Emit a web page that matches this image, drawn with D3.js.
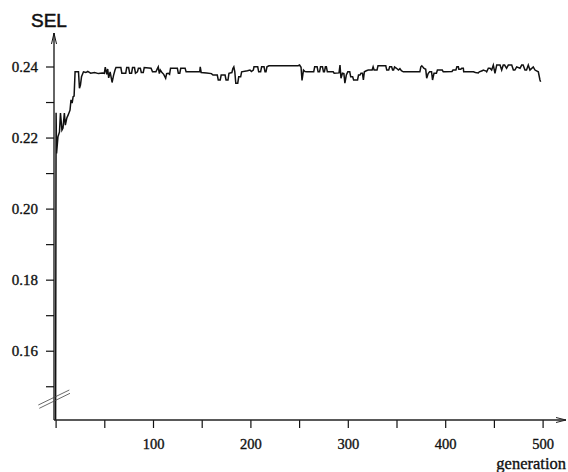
<!DOCTYPE html>
<html>
<head>
<meta charset="utf-8">
<script src="https://cdn.jsdelivr.net/npm/d3@7/dist/d3.min.js"></script>
<style>
  html, body { margin: 0; padding: 0; background: #fff; }
  svg { display: block; }
</style>
</head>
<body>
<svg id="chart" width="568" height="472"></svg>
<script>
// ---- data ----
const generations = [0,0.5,1,2.4,4,5,6.5,7.6,9,10,11.5,12.8,14.8,15.8,17,18,19,20,23.5,24.5,25.5,26.6,28.6,31,33,36,40,44,48,50,
51,52.5,53.5,54.5,56,57,58,59.5,61,62,67,68,72,73,75,76,78,79,81,82,84,85,87,88,90,91,98,99.5,103,104.5,105.4,106.5,107.5,109,111,113,114,115.7,117,118,125,126,127.5,128.5,133,134,148,148.5,149.5,155,160,161.6,166,167,169,170,174,175,177,178,181,182,183,184,185,187,188,190,191,197,199.6,201,203,203.7,207.5,208.5,210.5,211.5,214,215,216,217,219,249,250.5,252,253,254.5,256,258,265,266,268.5,269.5,271,272,274,275,276,277,278,279,285,286,291,292,293,294.5,296,297,298.5,300,302,303,305,306,310,311,312.5,313.5,315,316,317,319,321,325,326,327,330,331,339,340,342,343,345,346,347,348,350,352,353.5,355,357,371,374,375,376,377,378,380,381,382.5,384,386,387,388.5,391,392,397,398,400,407,408,411,412,413.5,414,416,417,418.6,419,429,431,434,435,438,439,442,442.6,444.3,446,447.7,449.4,451.1,452.9,456.3,458,459.6,461,463,464.8,468.3,470,471.5,473.4,476.8,478.5,480,481.9,483.5,485.3,487,490.4,492.2,495.6,497.3,498];
const selValues = [0.1405,0.2270,0.2155,0.2202,0.2216,0.2269,0.2221,0.2227,0.2269,0.2235,0.2255,0.2263,0.2277,0.2306,0.2297,0.2315,0.2317,0.2385,0.2385,0.2339,0.2348,0.2371,0.2385,0.2383,0.2386,0.2381,0.2383,0.2380,0.2382,0.2381,
0.2398,0.2378,0.2393,0.2368,0.2385,0.2370,0.2355,0.2375,0.2390,0.2397,0.2397,0.2381,0.2381,0.2397,0.2397,0.2381,0.2381,0.2397,0.2397,0.2381,0.2385,0.2395,0.2395,0.2383,0.2383,0.2397,0.2395,0.2385,0.2385,0.2394,0.2399,0.2380,0.2390,0.2384,0.2378,0.2367,0.2380,0.2381,0.2378,0.2395,0.2395,0.2381,0.2381,0.2395,0.2395,0.2385,0.2385,0.2399,0.2383,0.2382,0.2380,0.2376,0.2376,0.2362,0.2362,0.2376,0.2376,0.2362,0.2362,0.2381,0.2383,0.2394,0.2399,0.2385,0.2353,0.2353,0.2371,0.2371,0.2385,0.2388,0.2390,0.2386,0.2390,0.2399,0.2399,0.2385,0.2385,0.2399,0.2399,0.2385,0.2385,0.2399,0.2402,0.2402,0.2404,0.2398,0.2361,0.2390,0.2386,0.2385,0.2385,0.2399,0.2399,0.2385,0.2385,0.2399,0.2399,0.2385,0.2385,0.2399,0.2399,0.2385,0.2385,0.2381,0.2382,0.2404,0.2367,0.2381,0.2380,0.2353,0.2376,0.2385,0.2385,0.2371,0.2371,0.2362,0.2362,0.2376,0.2376,0.2381,0.2381,0.2362,0.2385,0.2388,0.2390,0.2390,0.2399,0.2390,0.2390,0.2402,0.2402,0.2390,0.2390,0.2399,0.2399,0.2390,0.2390,0.2399,0.2395,0.2390,0.2394,0.2388,0.2385,0.2385,0.2385,0.2399,0.2402,0.2399,0.2395,0.2392,0.2367,0.2380,0.2385,0.2385,0.2362,0.2381,0.2381,0.2390,0.2390,0.2385,0.2385,0.2386,0.2390,0.2390,0.2399,0.2399,0.2392,0.2392,0.2395,0.2395,0.2385,0.2385,0.2383,0.2382,0.2385,0.2388,0.2390,0.2387,0.2385,0.2395,0.2395,0.2390,0.2404,0.2381,0.2404,0.2404,0.2390,0.2404,0.2404,0.2395,0.2404,0.2404,0.2390,0.2390,0.2399,0.2395,0.2404,0.2404,0.2390,0.2390,0.2404,0.2390,0.2399,0.2390,0.2385,0.2362,0.2357];
const xTickValues = [0,50,100,150,200,250,300,350,400,450,500];
const xTickLabels = ["","","100","","200","","300","","400","","500"];
const yTickValues = [0.15,0.16,0.17,0.18,0.19,0.20,0.21,0.22,0.23,0.24];
const yTickLabels = ["","0.16","","0.18","","0.20","","0.22","","0.24"];
const yAxisTitle = "SEL";
const xAxisTitle = "generation";

// ---- layout ----
const svg = d3.select("#chart");
const axisX = 54, axisY = 420;
const x = d3.scaleLinear().domain([0, 500]).range([55.6, 542.6]);
const y = d3.scaleLinear().domain([0.1405, 0.24]).range([420, 66.5]);
const serif = "'Liberation Serif', 'Times New Roman', serif";

const data = generations.map((g, i) => ({ g, v: selValues[i] }));

// data line
svg.append("path")
  .datum(data)
  .attr("fill", "none")
  .attr("stroke", "#111")
  .attr("stroke-width", 1.5)
  .attr("stroke-linejoin", "miter")
  .attr("d", d3.line().x(d => x(d.g)).y(d => y(d.v)));

// y axis ticks
const yAxis = d3.axisLeft(y)
  .tickValues(yTickValues)
  .tickSize(8)
  .tickPadding(8)
  .tickFormat((d, i) => yTickLabels[i]);
const gy = svg.append("g").attr("transform", `translate(${axisX},0)`).call(yAxis);
gy.select(".domain").remove();
gy.selectAll("line").attr("stroke", "#111").attr("stroke-width", 1.2);
gy.selectAll("text")
  .attr("font-family", serif)
  .attr("font-size", 15)
  .attr("fill", "#111").attr("stroke", "#111").attr("stroke-width", 0.35);

// x axis ticks
const xAxis = d3.axisBottom(x)
  .tickValues(xTickValues)
  .tickSize(8)
  .tickPadding(11)
  .tickFormat((d, i) => xTickLabels[i]);
const gx = svg.append("g").attr("transform", `translate(0,${axisY})`).call(xAxis);
gx.select(".domain").remove();
gx.selectAll("line").attr("stroke", "#111").attr("stroke-width", 1.2);
gx.selectAll("text")
  .attr("font-family", serif)
  .attr("font-size", 14.5)
  .attr("fill", "#111").attr("stroke", "#111").attr("stroke-width", 0.35);

// axis lines with arrows
svg.append("line").attr("x1", axisX).attr("y1", axisY).attr("x2", axisX).attr("y2", 33)
  .attr("stroke", "#111").attr("stroke-width", 1.3);
svg.append("path").attr("d", `M${axisX - 2.5},44 L${axisX},33 L${axisX + 2.5},44`)
  .attr("fill", "none").attr("stroke", "#111").attr("stroke-width", 1);
svg.append("line").attr("x1", axisX).attr("y1", axisY).attr("x2", 566).attr("y2", axisY)
  .attr("stroke", "#222").attr("stroke-width", 1.3);
svg.append("path").attr("d", `M556,${axisY - 2.5} L566,${axisY} L556,${axisY + 2.5}`)
  .attr("fill", "none").attr("stroke", "#222").attr("stroke-width", 1);

// axis break marks
svg.append("line").attr("x1", 38.3).attr("y1", 405).attr("x2", 69.3).attr("y2", 390)
  .attr("stroke", "#444").attr("stroke-width", 0.8);
svg.append("line").attr("x1", 39.3).attr("y1", 408.3).attr("x2", 70).attr("y2", 393.3)
  .attr("stroke", "#444").attr("stroke-width", 0.8);

// titles
svg.append("text").attr("x", 31).attr("y", 26.7)
  .attr("font-family", "'Liberation Sans', Arial, sans-serif")
  .attr("font-size", 19).attr("fill", "#111").attr("stroke", "#111").attr("stroke-width", 0.5)
  .text(yAxisTitle);
svg.append("text").attr("x", 566).attr("y", 469).attr("text-anchor", "end")
  .attr("font-family", serif)
  .attr("font-size", 16.5).attr("fill", "#111").attr("stroke", "#111").attr("stroke-width", 0.35)
  .text(xAxisTitle);
</script>
</body>
</html>
